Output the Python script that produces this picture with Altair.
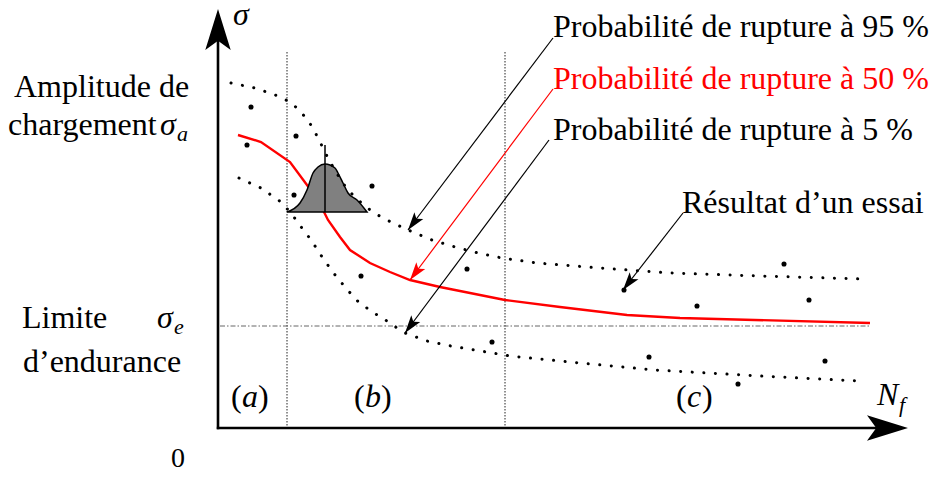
import numpy as np
import pandas as pd
import altair as alt

# ---------------- data (schematic units = page pixels) ----------------
# 50 % failure probability curve (red)
p50_x = [238, 261, 290, 307, 318, 328, 340, 350, 370, 390, 410, 440, 505, 560, 627, 680, 870]
p50_y = [135, 142, 162, 185, 200, 220, 237, 250, 263, 272, 280, 287, 300, 307, 315, 318, 323]

# 95 % failure probability curve (dotted, upper)
p95_x = [231, 255, 278, 290, 298, 306, 313, 318, 329, 342, 349, 357, 366, 376, 387, 408, 432,
         455, 478, 502, 537, 600, 670, 760, 863]
p95_y = [83, 88, 96, 102, 109, 118, 128, 138, 160, 182, 191, 199, 207, 214, 220, 230, 240,
         247, 253, 258, 263, 268, 273, 276, 279]

# 5 % failure probability curve (dotted, lower)
p5_x = [239, 250, 261, 271, 281, 290, 297, 304, 312, 318, 325, 332, 339, 347, 355, 364, 374,
        384, 394, 405, 427, 451, 475, 510, 580, 655, 760, 860]
p5_y = [178, 183, 188, 195, 202, 212, 221, 231, 241, 251, 261, 271, 280, 289, 299, 306, 313,
        319, 326, 333, 341, 346, 350, 356, 363, 370, 376, 381]

# test results
pts_x = [251, 247, 296, 294, 372, 361, 467, 492, 624, 649, 697, 738, 784, 809, 825]
pts_y = [107, 145, 136, 195, 186, 276, 269, 342, 290, 357, 306, 384, 264, 300, 361]

# gaussian scatter sketch
bell_x = [287, 300, 307, 313, 318, 325, 335, 338, 343, 348, 357, 367]
bell_y = [212, 203, 190, 173, 167, 164, 168, 173, 183, 193, 200, 212]
bell_base = 212
bell_mid_x = 325
bell_mid_top = 145

# region separators and endurance limit
sep_x = [287, 505]
sep_top = 52
axis_x0 = 218
axis_y0 = 428
sigma_e_y = 326
sigma_e_x_end = 870

# annotation arrows
ann_x1 = [553, 553, 549, 683]
ann_y1 = [38, 89, 140, 213]
ann_x2 = [408, 410, 405, 623]
ann_y2 = [230, 280, 333, 290]
ann_col = ["black", "red", "black", "black"]

# plain text
txt = ["Amplitude de", "chargement", "Limite", "d\u2019endurance", "0",
       "Probabilit\u00e9 de rupture \u00e0 95 %", "Probabilit\u00e9 de rupture \u00e0 50 %",
       "Probabilit\u00e9 de rupture \u00e0 5 %", "R\u00e9sultat d\u2019un essai",
       "(", ")", "(", ")", "(", ")"]
txt_x = [14, 8, 22, 23, 171, 553, 553, 553, 682, 231, 258, 354, 381, 676, 702]
txt_y = [97, 135, 328, 372, 467, 37, 89, 140, 213, 407, 407, 407, 407, 407, 407]
txt_s = [32, 32, 32, 32, 28, 32, 32, 32, 32, 32, 32, 32, 32, 32, 32]
txt_c = ["black"] * 6 + ["red"] + ["black"] * 8

# math (italic) text
mth = ["\u03c3", "\u03c3", "a", "\u03c3", "e", "N", "f", "a", "b", "c"]
mth_x = [233, 160, 177, 157, 174, 877, 899, 242, 365, 687]
mth_y = [25, 135, 141, 328, 334, 405, 412, 407, 407, 407]
mth_s = [32, 32, 22, 32, 22, 32, 22, 32, 32, 32]

# ---------------- chart ----------------
W, H = 921, 463
xs = alt.Scale(domain=[8, 8 + W], nice=False, zero=False)
ys = alt.Scale(domain=[8, 8 + H], nice=False, zero=False, reverse=True)


def X(f):
    return alt.X(f, type="quantitative", scale=xs, axis=None)


def Y(f):
    return alt.Y(f, type="quantitative", scale=ys, axis=None)


FONT = "Liberation Serif"

# separators
sep_df = pd.DataFrame({"x": sep_x, "y": [sep_top] * 2, "y2": [axis_y0] * 2})
seps = alt.Chart(sep_df).mark_rule(strokeDash=[1.5, 1.5], strokeWidth=1, color="#222").encode(
    x=X("x"), y=Y("y"), y2="y2")

se_df = pd.DataFrame({"x": [axis_x0 + 2], "x2": [sigma_e_x_end], "y": [sigma_e_y]})
se = alt.Chart(se_df).mark_rule(strokeDash=[5, 2, 1.5, 2], strokeWidth=1, color="#666").encode(
    x=X("x"), x2="x2", y=Y("y"))

red_df = pd.DataFrame({"x": p50_x, "y": p50_y, "i": range(len(p50_x))})
red = alt.Chart(red_df).mark_line(color="red", strokeWidth=2.4).encode(
    x=X("x"), y=Y("y"), order="i:Q")

bell_df = pd.DataFrame({"x": bell_x, "y": bell_y, "b": [bell_base] * len(bell_x)})
bell = alt.Chart(bell_df).mark_area(color="#808080", stroke="black", strokeWidth=1.5,
                                    interpolate="monotone", opacity=1).encode(
    x=X("x"), y=Y("y"), y2="b")

mid_df = pd.DataFrame({"x": [bell_mid_x], "y": [bell_mid_top], "y2": [bell_base]})
mid = alt.Chart(mid_df).mark_rule(color="black", strokeWidth=1.5).encode(
    x=X("x"), y=Y("y"), y2="y2")

dot_df = pd.concat([
    pd.DataFrame({"x": p95_x, "y": p95_y, "s": "p95", "i": range(len(p95_x))}),
    pd.DataFrame({"x": p5_x, "y": p5_y, "s": "p5", "i": range(len(p5_x))}),
])
dotted = alt.Chart(dot_df).mark_line(color="black", strokeWidth=3, strokeCap="round",
                                     strokeDash=[0.1, 11.5]).encode(
    x=X("x"), y=Y("y"), detail="s:N", order="i:Q")

pts_df = pd.DataFrame({"x": pts_x, "y": pts_y})
pts = alt.Chart(pts_df).mark_circle(size=26, color="black", opacity=1).encode(x=X("x"), y=Y("y"))

ann_df = pd.DataFrame({"x": ann_x1, "y": ann_y1, "x2": ann_x2, "y2": ann_y2, "c": ann_col})
ann = alt.Chart(ann_df).mark_rule(strokeWidth=1.2).encode(
    x=X("x"), y=Y("y"), x2="x2", y2="y2", color=alt.Color("c:N", scale=None))

ax_df = pd.DataFrame({"x": [axis_x0, axis_x0 - 1.2], "x2": [axis_x0, 878],
                      "y": [axis_y0 + 1.2, axis_y0], "y2": [40, axis_y0]})
axes = alt.Chart(ax_df).mark_rule(strokeWidth=2.6, color="black").encode(
    x=X("x"), x2="x2", y=Y("y"), y2="y2")

# arrow heads: annotation ones + the two axis tips
hx = list(ann_x2) + [axis_x0, 908]
hy = list(ann_y2) + [9, axis_y0]
hang = [float(np.degrees(np.arctan2(x2 - x1, -(y2 - y1))) % 360)
        for x1, y1, x2, y2 in zip(ann_x1, ann_y1, ann_x2, ann_y2)] + [0.0, 90.0]
hsize = [18 ** 2] * 4 + [41 ** 2] * 2
hcol = list(ann_col) + ["black", "black"]
head_df = pd.DataFrame({"x": hx, "y": hy, "a": hang, "s": hsize, "c": hcol})
HEAD = "M0,0 L0.62,2 L0,1.55 L-0.62,2 Z"
heads = alt.Chart(head_df).mark_point(shape=HEAD, filled=True, opacity=1, strokeWidth=0).encode(
    x=X("x"), y=Y("y"), angle=alt.Angle("a:Q", scale=None),
    size=alt.Size("s:Q", scale=None), color=alt.Color("c:N", scale=None))

txt_df = pd.DataFrame({"x": txt_x, "y": txt_y, "t": txt, "s": txt_s, "c": txt_c})
texts = alt.Chart(txt_df).mark_text(font=FONT, align="left", baseline="alphabetic").encode(
    x=X("x"), y=Y("y"), text="t:N", size=alt.Size("s:Q", scale=None),
    color=alt.Color("c:N", scale=None))

mth_df = pd.DataFrame({"x": mth_x, "y": mth_y, "t": mth, "s": mth_s})
maths = alt.Chart(mth_df).mark_text(font=FONT, fontStyle="italic", align="left",
                                    baseline="alphabetic", color="black").encode(
    x=X("x"), y=Y("y"), text="t:N", size=alt.Size("s:Q", scale=None))

chart = alt.layer(seps, se, red, bell, mid, dotted, pts, ann, axes, heads, texts, maths).properties(
    width=W, height=H, padding=0, autosize="none", background="white"
).configure_view(stroke=None)

chart.save("out.html", embed_options={"renderer": "svg", "actions": False})
